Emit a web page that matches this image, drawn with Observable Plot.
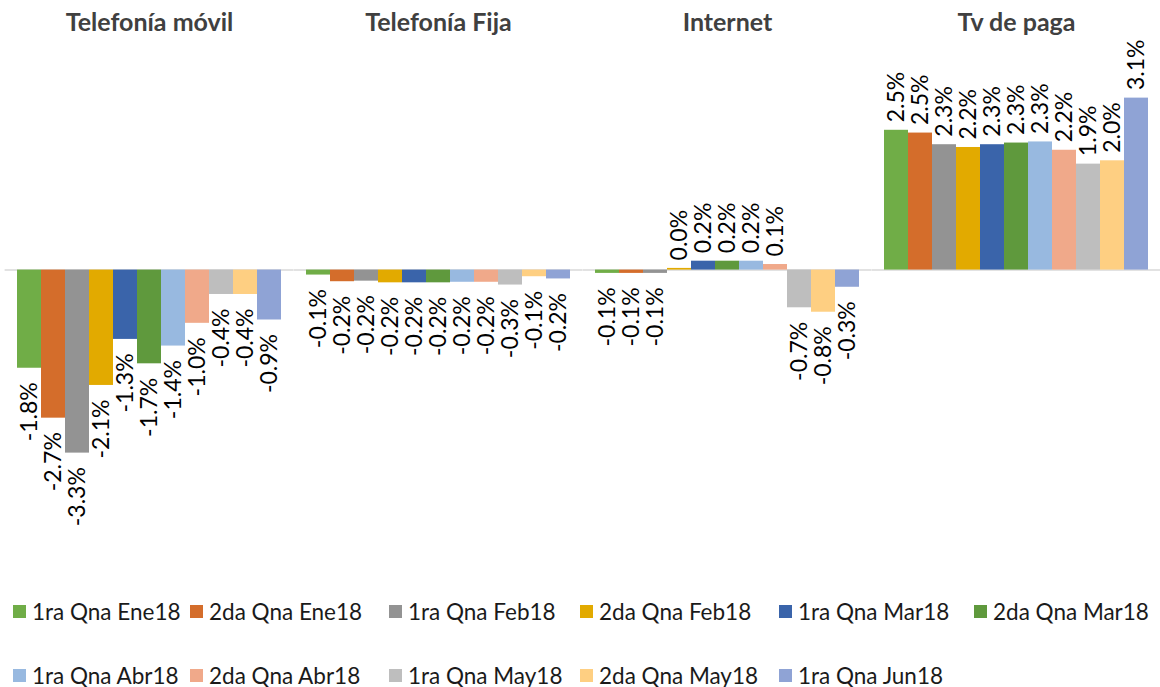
<!DOCTYPE html>
<html><head><meta charset="utf-8">
<script src="https://cdn.jsdelivr.net/npm/d3@7"></script>
<script src="https://cdn.jsdelivr.net/npm/@observablehq/plot@0.6"></script>
<style>
body{margin:0;background:#fff;font-family:Lato,sans-serif;}
#chart svg{display:block}
.legend{display:grid;grid-template-columns:177px 199px 191px 199px 195px auto;row-gap:38px;padding-left:13px;margin-top:40px;font-size:22.5px;color:#1a1a1a;}
.item{display:flex;align-items:center;height:26px;white-space:nowrap}
.sw{width:13px;height:13px;margin-right:6px;flex:none}
</style></head><body><div id="chart"></div><div class="legend" id="legend"></div>
<script>
const groups = ["Telefonía móvil", "Telefonía Fija", "Internet", "Tv de paga"];
const series = ["1ra Qna Ene18","2da Qna Ene18","1ra Qna Feb18","2da Qna Feb18","1ra Qna Mar18","2da Qna Mar18","1ra Qna Abr18","2da Qna Abr18","1ra Qna May18","2da Qna May18","1ra Qna Jun18"];
const movil    = [-1.77, -2.67, -3.30, -2.08, -1.25, -1.69, -1.37, -0.96, -0.44, -0.44, -0.90];
const fija     = [-0.09, -0.21, -0.20, -0.23, -0.23, -0.23, -0.22, -0.22, -0.27, -0.12, -0.16];
const internet = [-0.06, -0.06, -0.06, 0.03, 0.16, 0.16, 0.16, 0.10, -0.68, -0.76, -0.31];
const tvPaga   = [2.52, 2.47, 2.26, 2.21, 2.26, 2.29, 2.31, 2.16, 1.91, 1.97, 3.10];
const colors = ["#70AD47","#D46D2B","#939393","#E2AA00","#3A64AA","#5F993D","#98B9E0","#F0A98A","#BEBEBE","#FECF82","#8FA3D5"];

const table = [];
[movil, fija, internet, tvPaga].forEach((vals, gi) =>
  vals.forEach((v, si) => table.push({group: groups[gi], series: series[si], value: v})));
const fmt = d => d.value.toFixed(1) + "%";

const plot = Plot.plot({
  width: 1160, height: 558,
  marginTop: 0, marginBottom: 0, marginLeft: 13, marginRight: 7,
  style: {fontFamily: "Lato, sans-serif", background: "#fff"},
  fx: {domain: groups, paddingInner: 0.0645, paddingOuter: 0, axis: null, label: null},
  x: {domain: series, padding: 0, axis: null},
  y: {domain: [-5.2, 4.86], axis: null},
  color: {domain: series, range: colors},
  marks: [
    Plot.ruleY([0], {stroke: "#d9d9d9", strokeWidth: 1.5, insetLeft: -9.4, insetRight: -9.4}),
    Plot.barY(table, {fx: "group", x: "series", y: "value", fill: "series"}),
    Plot.text(table.filter(d => d.value >= 0), {fx: "group", x: "series", y: "value", text: fmt, rotate: -90,
      textAnchor: "start", lineAnchor: "middle", dy: -8, fontSize: 23, fill: "#000"}),
    Plot.text(table.filter(d => d.value < 0), {fx: "group", x: "series", y: "value", text: fmt, rotate: -90,
      textAnchor: "end", lineAnchor: "middle", dy: 14, fontSize: 23, fill: "#000"}),
    Plot.text(groups, {fx: d => d, text: d => d, frameAnchor: "top", dy: 22, lineAnchor: "middle",
      fontSize: 25, fontWeight: "bold", fill: "#404040"})
  ]
});
document.getElementById("chart").appendChild(plot);

const legend = document.getElementById("legend");
series.forEach((s, i) => {
  const item = document.createElement("div");
  item.className = "item";
  const sw = document.createElement("span");
  sw.className = "sw";
  sw.style.background = colors[i];
  const t = document.createElement("span");
  t.textContent = s;
  item.appendChild(sw); item.appendChild(t);
  legend.appendChild(item);
});
</script>
</body></html>
